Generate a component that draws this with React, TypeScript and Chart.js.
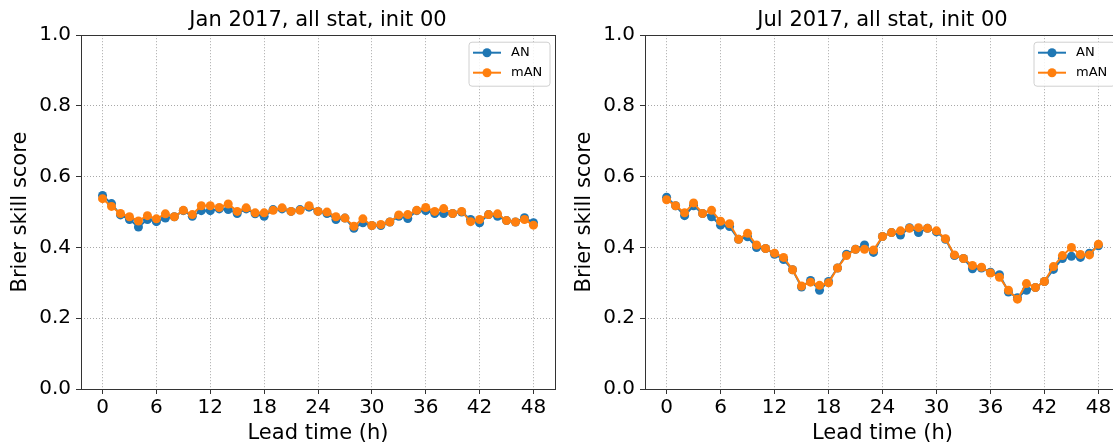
import React, { useEffect, useRef } from "react";
import { Chart, registerables } from "chart.js";

Chart.register(...registerables);

const leadTimes = [0, 1, 2, 3, 4, 5, 6, 7, 8, 9, 10, 11, 12, 13, 14, 15, 16, 17, 18, 19, 20, 21, 22, 23, 24, 25, 26, 27, 28, 29, 30, 31, 32, 33, 34, 35, 36, 37, 38, 39, 40, 41, 42, 43, 44, 45, 46, 47, 48];
const xTicks = [0, 6, 12, 18, 24, 30, 36, 42, 48];
const yTicks = [0, 0.2, 0.4, 0.6, 0.8, 1.0];
const seriesNames = ["AN", "mAN"];
const titles = ["Jan 2017, all stat, init 00", "Jul 2017, all stat, init 00"];

const janAN = [0.547, 0.524, 0.492, 0.479, 0.458, 0.479, 0.473, 0.483, 0.487, 0.504, 0.488, 0.504, 0.504, 0.509, 0.507, 0.496, 0.509, 0.495, 0.488, 0.507, 0.509, 0.502, 0.507, 0.514, 0.502, 0.496, 0.479, 0.483, 0.454, 0.470, 0.462, 0.462, 0.472, 0.488, 0.482, 0.504, 0.504, 0.496, 0.496, 0.496, 0.500, 0.479, 0.470, 0.493, 0.488, 0.476, 0.472, 0.484, 0.470];
const janMAN = [0.538, 0.516, 0.496, 0.487, 0.475, 0.490, 0.481, 0.495, 0.487, 0.505, 0.493, 0.518, 0.518, 0.513, 0.523, 0.502, 0.512, 0.498, 0.498, 0.505, 0.512, 0.502, 0.505, 0.518, 0.502, 0.500, 0.487, 0.483, 0.460, 0.481, 0.462, 0.465, 0.472, 0.492, 0.493, 0.505, 0.513, 0.502, 0.510, 0.496, 0.502, 0.473, 0.479, 0.493, 0.495, 0.476, 0.472, 0.479, 0.463];
const julAN = [0.542, 0.518, 0.490, 0.518, 0.496, 0.487, 0.463, 0.459, 0.423, 0.430, 0.400, 0.397, 0.381, 0.366, 0.337, 0.288, 0.307, 0.279, 0.304, 0.342, 0.381, 0.395, 0.407, 0.386, 0.431, 0.442, 0.435, 0.456, 0.442, 0.454, 0.444, 0.423, 0.377, 0.369, 0.340, 0.342, 0.330, 0.323, 0.274, 0.258, 0.279, 0.287, 0.304, 0.338, 0.369, 0.375, 0.372, 0.384, 0.405];
const julMAN = [0.535, 0.518, 0.498, 0.526, 0.496, 0.505, 0.474, 0.467, 0.423, 0.440, 0.407, 0.397, 0.384, 0.372, 0.337, 0.291, 0.302, 0.293, 0.300, 0.342, 0.377, 0.395, 0.395, 0.393, 0.431, 0.442, 0.447, 0.454, 0.456, 0.454, 0.447, 0.425, 0.379, 0.369, 0.349, 0.344, 0.328, 0.316, 0.279, 0.254, 0.298, 0.287, 0.304, 0.346, 0.377, 0.400, 0.380, 0.379, 0.409];

const BLUE = "#1f77b4";
const ORANGE = "#ff7f0e";
const FONT = "'DejaVu Sans', sans-serif";

const framePlugin = {
  id: "frameAndLegend",
  afterDraw(chart: any) {
    const { ctx, chartArea } = chart;
    const { left, right, top, bottom } = chartArea;
    ctx.save();
    ctx.strokeStyle = "#333333";
    ctx.lineWidth = 1;
    ctx.setLineDash([]);
    ctx.strokeRect(Math.round(left) + 0.5, Math.round(top) + 0.5, Math.round(right - left), Math.round(bottom - top));

    // legend
    const w = 81;
    const h = 44;
    const bx = right - 5 - w;
    const by = top + 7;
    const r = 3;
    ctx.beginPath();
    ctx.moveTo(bx + r, by);
    ctx.lineTo(bx + w - r, by);
    ctx.quadraticCurveTo(bx + w, by, bx + w, by + r);
    ctx.lineTo(bx + w, by + h - r);
    ctx.quadraticCurveTo(bx + w, by + h, bx + w - r, by + h);
    ctx.lineTo(bx + r, by + h);
    ctx.quadraticCurveTo(bx, by + h, bx, by + h - r);
    ctx.lineTo(bx, by + r);
    ctx.quadraticCurveTo(bx, by, bx + r, by);
    ctx.closePath();
    ctx.fillStyle = "rgba(255,255,255,0.85)";
    ctx.fill();
    ctx.strokeStyle = "#d0d0d0";
    ctx.stroke();

    const dsets = chart.data.datasets;
    dsets.forEach((ds: any, i: number) => {
      const yy = by + 10.5 + i * 20;
      ctx.strokeStyle = ds.borderColor;
      ctx.lineWidth = 2;
      ctx.beginPath();
      ctx.moveTo(bx + 4, yy);
      ctx.lineTo(bx + 32, yy);
      ctx.stroke();
      ctx.fillStyle = ds.pointBackgroundColor;
      ctx.beginPath();
      ctx.arc(bx + 18, yy, 4.5, 0, Math.PI * 2);
      ctx.fill();
      ctx.fillStyle = "#000";
      ctx.font = `13px ${FONT}`;
      ctx.textBaseline = "middle";
      ctx.textAlign = "left";
      ctx.fillText(ds.label, bx + 42, yy);
    });
    ctx.restore();
  },
};

function makeConfig(title: string, an: number[], man: number[]): any {
  return {
    type: "line",
    data: {
      datasets: [
        {
          label: seriesNames[0],
          data: leadTimes.map((t, i) => ({ x: t, y: an[i] })),
          borderColor: BLUE,
          backgroundColor: BLUE,
          pointBackgroundColor: BLUE,
          pointBorderWidth: 0,
          pointRadius: 4.5,
          borderWidth: 2,
          order: 1,
        },
        {
          label: seriesNames[1],
          data: leadTimes.map((t, i) => ({ x: t, y: man[i] })),
          borderColor: ORANGE,
          backgroundColor: ORANGE,
          pointBackgroundColor: ORANGE,
          pointBorderWidth: 0,
          pointRadius: 4.5,
          borderWidth: 2,
          order: 0,
        },
      ],
    },
    options: {
      responsive: false,
      animation: false,
      devicePixelRatio: 1,
      layout: { padding: { left: 0, right: 5, top: 0, bottom: 0 } },
      plugins: {
        legend: { display: false },
        tooltip: { enabled: false },
        title: {
          display: true,
          text: title,
          fullSize: false,
          color: "#000",
          font: { family: FONT, size: 21, weight: "normal", lineHeight: 1.2 },
          padding: { top: 8, bottom: 2 },
        },
      },
      scales: {
        x: {
          type: "linear",
          min: -2.4,
          max: 50.4,
          afterBuildTicks: (scale: any) => {
            scale.ticks = xTicks.map((v) => ({ value: v }));
          },
          afterFit: (scale: any) => {
            scale.height = 57;
          },
          ticks: {
            color: "#000",
            font: { family: FONT, size: 20 },
            padding: 2,
            maxRotation: 0,
            autoSkip: false,
            callback: (v: any) => String(v),
          },
          grid: {
            color: "#a8a8a8",
            lineWidth: 1,
            drawTicks: true,
            tickLength: 5,
            tickColor: "#333",
            tickWidth: 1,
            tickBorderDash: [],
          },
          border: { display: false, dash: [1, 2] },
          title: {
            display: true,
            text: "Lead time (h)",
            color: "#000",
            font: { family: FONT, size: 21, lineHeight: 1.2 },
            padding: { top: 0, bottom: 0 },
          },
        },
        y: {
          type: "linear",
          min: 0,
          max: 1,
          afterBuildTicks: (scale: any) => {
            scale.ticks = yTicks.map((v) => ({ value: v }));
          },
          afterFit: (scale: any) => {
            scale.width = 81;
          },
          ticks: {
            color: "#000",
            font: { family: FONT, size: 20 },
            padding: 5,
            autoSkip: false,
            callback: (v: any) => Number(v).toFixed(1),
          },
          grid: {
            color: "#a8a8a8",
            lineWidth: 1,
            drawTicks: true,
            tickLength: 5,
            tickColor: "#333",
            tickWidth: 1,
            tickBorderDash: [],
          },
          border: { display: false, dash: [1, 2] },
          title: {
            display: true,
            text: "Brier skill score",
            color: "#000",
            font: { family: FONT, size: 21, lineHeight: 1.2 },
            padding: { top: 8, bottom: 0 },
          },
        },
      },
    },
    plugins: [framePlugin],
  };
}

function Panel(props: { title: string; an: number[]; man: number[]; left: number; width: number }) {
  const ref = useRef<HTMLCanvasElement>(null);
  useEffect(() => {
    if (!ref.current) return;
    const chart = new Chart(ref.current, makeConfig(props.title, props.an, props.man));
    return () => chart.destroy();
  }, []);
  return (
    <canvas
      ref={ref}
      width={props.width}
      height={446}
      style={{ position: "absolute", left: props.left, top: 0, width: props.width, height: 446 }}
    />
  );
}

export default function App() {
  return (
    <div
      style={{
        position: "fixed",
        left: 0,
        top: 0,
        width: 1113,
        height: 446,
        overflow: "hidden",
        background: "#fff",
      }}
    >
      <Panel title={titles[0]} an={janAN} man={janMAN} left={0} width={560} />
      <Panel title={titles[1]} an={julAN} man={julMAN} left={564} width={561} />
    </div>
  );
}
